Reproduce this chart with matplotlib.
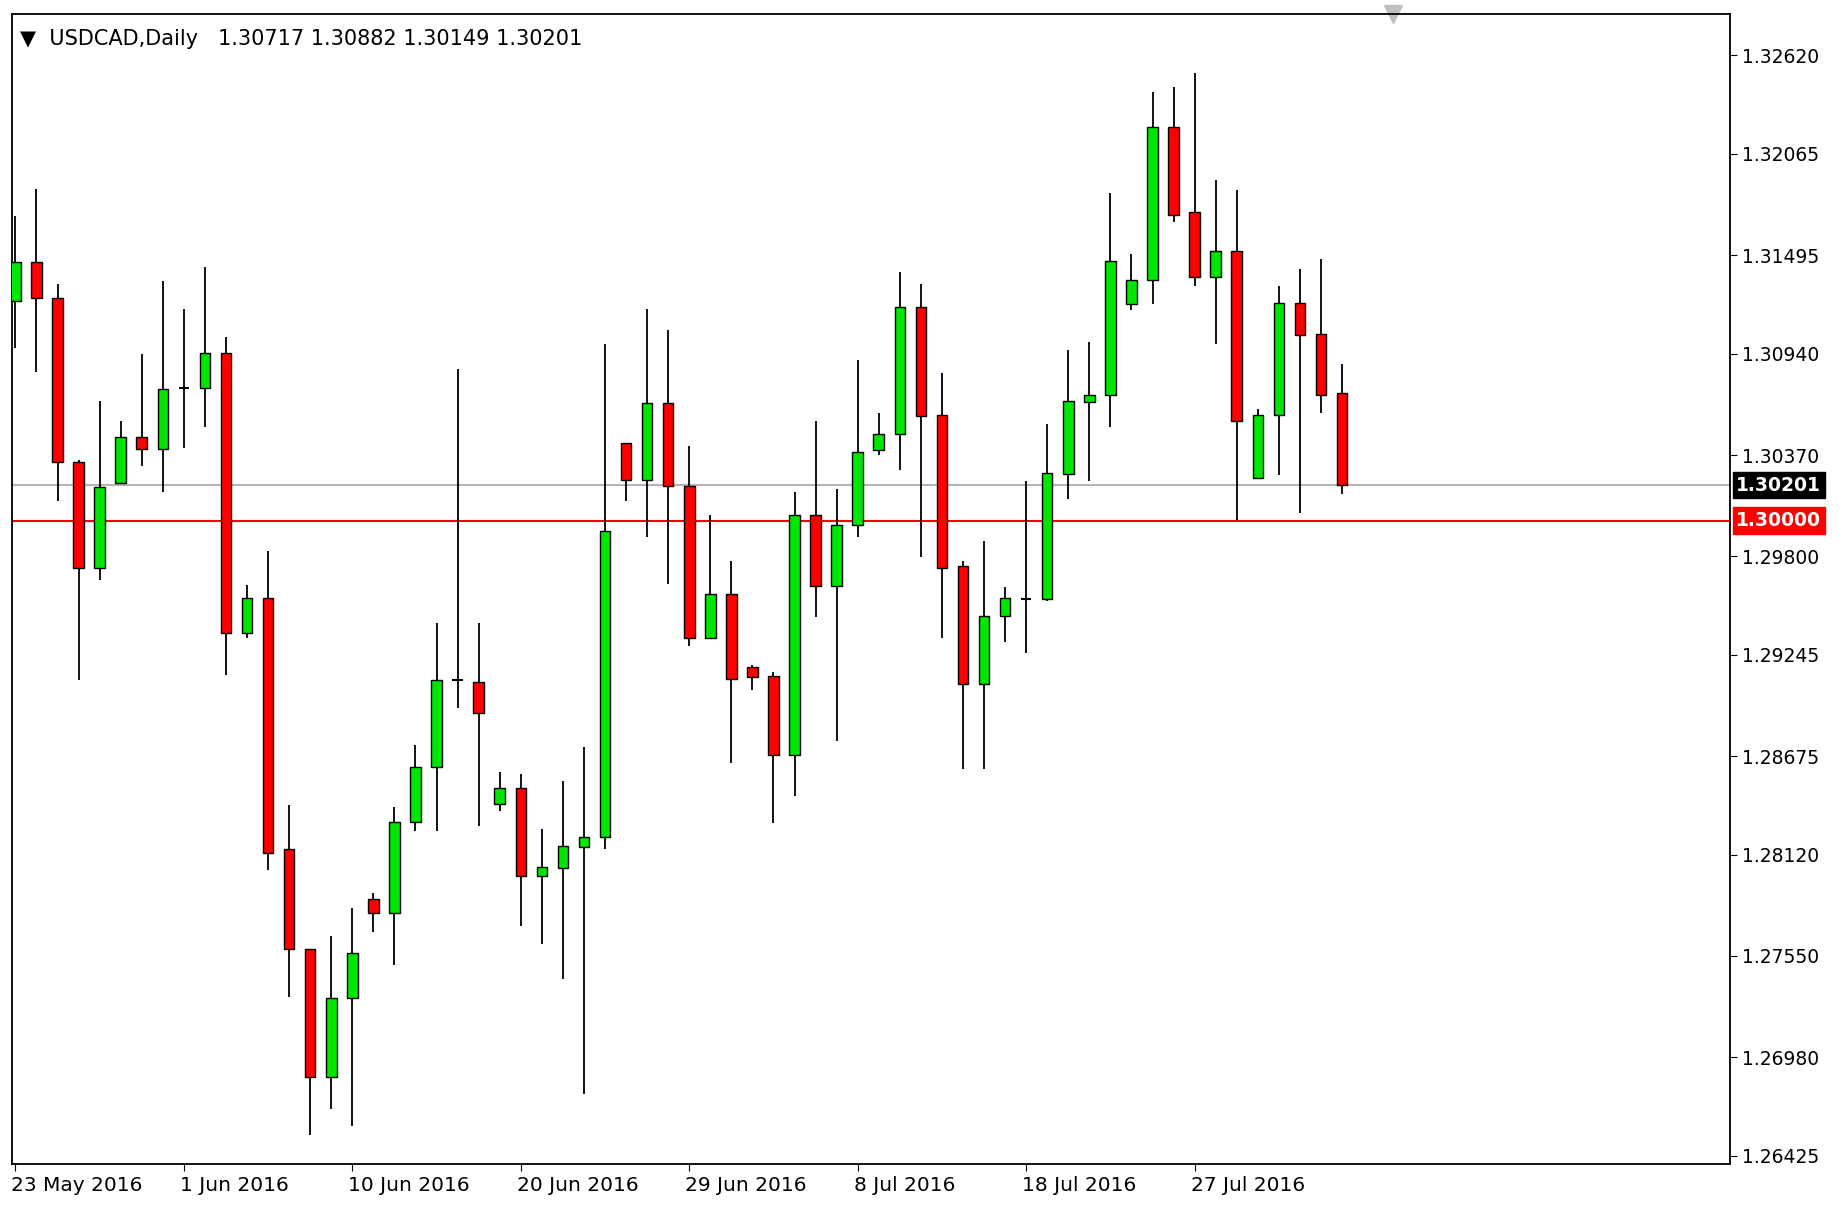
import matplotlib
matplotlib.use("Agg")
import matplotlib.pyplot as plt
from matplotlib.patches import Rectangle
import matplotlib.transforms as mt

opens  = [1.31239,1.31458,1.31252,1.30329,1.29732,1.30210,1.30469,1.30402,1.30748,1.30748,
          1.30947,1.29366,1.29566,1.28151,1.27587,1.26870,1.27315,1.27872,1.27793,1.28304,
          1.28616,1.29101,1.29094,1.28404,1.28497,1.27999,1.28045,1.28165,1.28218,1.30435,
          1.30230,1.30661,1.30196,1.29340,1.29586,1.29174,1.29127,1.28682,1.30030,1.29632,
          1.29977,1.30396,1.30489,1.31206,1.30595,1.29745,1.29081,1.29466,1.29559,1.29559,
          1.30263,1.30668,1.30708,1.31219,1.31358,1.32215,1.31737,1.31372,1.31518,1.30243,
          1.30595,1.31226,1.31053,1.30717]
highs  = [1.31717,1.31870,1.31332,1.30340,1.30674,1.30562,1.30940,1.31352,1.31192,1.31431,
          1.31033,1.29639,1.29831,1.28397,1.27587,1.27660,1.27819,1.27906,1.28390,1.28736,
          1.29426,1.30854,1.29426,1.28583,1.28576,1.28264,1.28536,1.28729,1.30993,1.30435,
          1.31192,1.31073,1.30422,1.30030,1.29771,1.29187,1.29147,1.30163,1.30562,1.30176,
          1.30907,1.30608,1.31398,1.31332,1.30834,1.29771,1.29884,1.29625,1.30223,1.30542,
          1.30960,1.31006,1.31843,1.31504,1.32414,1.32441,1.32520,1.31916,1.31863,1.30628,
          1.31319,1.31418,1.31471,1.30882]
lows   = [1.30973,1.30840,1.30110,1.29101,1.29665,1.30210,1.30309,1.30163,1.30409,1.30528,
          1.29134,1.29340,1.28032,1.27321,1.26544,1.26690,1.26591,1.27686,1.27501,1.28251,
          1.28251,1.28948,1.28284,1.28364,1.27720,1.27620,1.27421,1.26770,1.28151,1.30110,
          1.29911,1.29645,1.29293,1.29340,1.28636,1.29048,1.28297,1.28450,1.29459,1.28762,
          1.29911,1.30369,1.30283,1.29798,1.29340,1.28603,1.28603,1.29320,1.29254,1.29546,
          1.30123,1.30223,1.30528,1.31186,1.31219,1.31684,1.31319,1.30993,1.30004,1.30243,
          1.30256,1.30044,1.30608,1.30149]
closes = [1.31458,1.31252,1.30329,1.29732,1.30190,1.30469,1.30402,1.30741,1.30748,1.30947,
          1.29366,1.29566,1.28131,1.27587,1.26870,1.27315,1.27567,1.27793,1.28304,1.28616,
          1.29101,1.29101,1.28915,1.28497,1.27999,1.28052,1.28171,1.28218,1.29944,1.30230,
          1.30661,1.30196,1.29340,1.29586,1.29107,1.29121,1.28682,1.30030,1.29632,1.29977,
          1.30389,1.30489,1.31206,1.30588,1.29732,1.29081,1.29466,1.29566,1.29559,1.30269,
          1.30674,1.30708,1.31465,1.31358,1.32215,1.31724,1.31372,1.31518,1.30562,1.30595,
          1.31226,1.31046,1.30708,1.30201]
date_labels = ["23 May 2016","1 Jun 2016","10 Jun 2016","20 Jun 2016",
               "29 Jun 2016","8 Jul 2016","18 Jul 2016","27 Jul 2016"]
date_idx = [0,8,16,24,32,40,48,56]
yticks = [1.32620,1.32065,1.31495,1.30940,1.30370,1.29800,1.29245,1.28675,1.28120,1.27550,1.26980,1.26425]
last_price = 1.30201
level = 1.30000

fig = plt.figure(figsize=(18.45,12.30), dpi=100)
ax = fig.add_axes([0.0064,0.0537,0.9310,0.9348])
GREEN = "#00e600"; RED = "#ff0000"
w = 0.5
for i,(o,h,l,c) in enumerate(zip(opens,highs,lows,closes)):
    ax.vlines(i, l, h, color="black", lw=1.3, zorder=2)
    lo, hi = min(o,c), max(o,c)
    if hi-lo < 0.00003:
        ax.hlines(o, i-w/2, i+w/2, color="black", lw=1.5, zorder=3)
    else:
        ax.add_patch(Rectangle((i-w/2, lo), w, hi-lo, facecolor=GREEN if c>o else RED,
                               edgecolor="black", lw=1.0, zorder=3))
ax.axhline(last_price, color="#b4b4b4", lw=1.5, zorder=1)
ax.axhline(level, color="#ff0000", lw=1.5, zorder=1)
ax.set_xlim(-0.17, 81.4)
ax.set_ylim(1.26379, 1.32852)
ax.yaxis.tick_right()
ax.set_yticks(yticks)
ax.set_yticklabels([f"{v:.5f}" for v in yticks], fontsize=13.5)
ax.set_xticks(date_idx)
ax.set_xticklabels(date_labels, fontsize=14.5, ha="left")
ax.tick_params(axis="x", length=5, pad=4)
ax.tick_params(axis="y", length=5, pad=4)
off = mt.ScaledTranslation(-4/100, 0, fig.dpi_scale_trans)
for t in ax.get_xticklabels():
    t.set_transform(t.get_transform() + off)
for s in ax.spines.values():
    s.set_linewidth(1.3)
ax.text(1.004, last_price, f"{last_price:.5f}", transform=ax.get_yaxis_transform(),
        fontsize=13.5, color="white", va="center", ha="left", fontweight="bold",
        bbox=dict(boxstyle="square,pad=0.2", fc="black", ec="black"), clip_on=False)
ax.text(1.004, level, f"{level:.5f}", transform=ax.get_yaxis_transform(),
        fontsize=13.5, color="white", va="center", ha="left", fontweight="bold",
        bbox=dict(boxstyle="square,pad=0.2", fc="#ff0000", ec="#ff0000"), clip_on=False)
ax.text(0.005, 0.978, "▼  USDCAD,Daily   1.30717 1.30882 1.30149 1.30201",
        transform=ax.transAxes, fontsize=15, va="center", ha="left")
ax.plot([65.4], [1.32852], marker="v", color="#c0c0c0", markersize=13, clip_on=False)
fig.savefig("out.png", dpi=100)
